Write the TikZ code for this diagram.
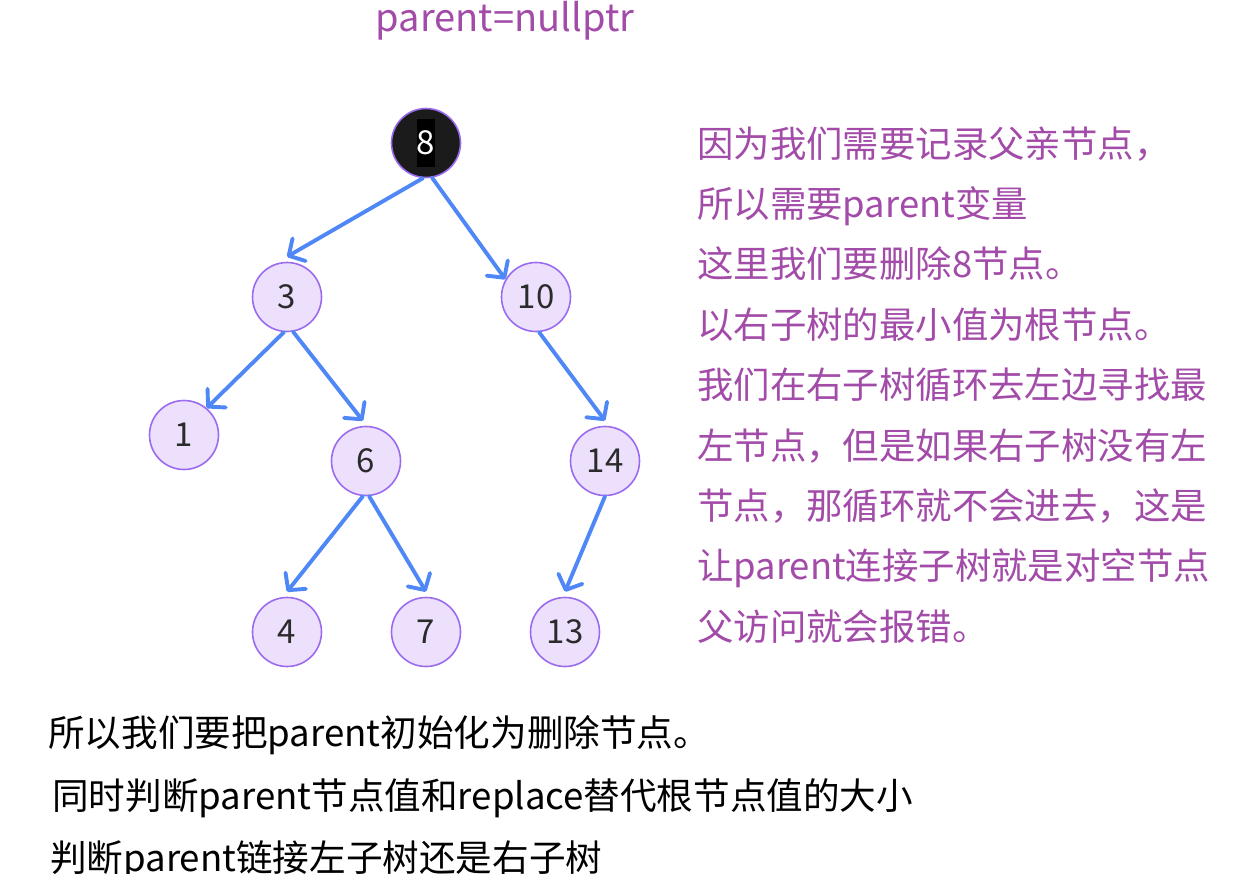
\documentclass[tikz,border=0pt]{standalone}
\usepackage{fontspec}
\setmainfont{Noto Sans CJK SC}
\usetikzlibrary{arrows.meta}

\tikzset{
  every node/.style={font=\fontsize{36.4}{42}\selectfont},
  treenode/.style={circle, draw=nodeborder, line width=1.6pt, fill=nodefill,
    minimum size=69pt, inner sep=0pt, text=numcol,
    font=\fontsize{33}{38}\selectfont},
  link/.style={-{Straight Barb[length=12pt, width=26pt, round]},
    line width=3.9pt, arrowcol, line cap=round},
  note/.style={anchor=base west, inner sep=0pt, text=notecol},
  bottomnote/.style={anchor=base west, inner sep=0pt,
    font=\fontsize{36.6}{42}\selectfont}
}

\begin{document}
\begin{tikzpicture}[x=1pt, y=-1pt]
  % Bounding box fixe (taille de la capture)
  \path[use as bounding box] (0,0) rectangle (1237,873);

  % Colors.
  \definecolor{nodefill}{HTML}{ECE0FD}
  \definecolor{nodeborder}{HTML}{9B6BEF}
  \definecolor{arrowcol}{HTML}{4F88F6}
  \definecolor{notecol}{HTML}{A24BA8}
  \definecolor{numcol}{HTML}{2B2B2B}
  \definecolor{rootfill}{HTML}{1B1B1B}

  % Label above the root.
  \node[anchor=base, inner sep=0pt, text=notecol, font=\fontsize{38}{44}\selectfont]
    (nullptr) at (505,31) {parent=nullptr};

  % Tree nodes.
  \node[treenode, fill=rootfill] (root) at (426,143) {};
  \node[fill=black, text=white, inner sep=0pt, minimum width=17pt,
    minimum height=48pt, font=\fontsize{33}{38}\selectfont]
    (rootnum) at (root) {8};
  \node[treenode] (n3)  at (287,297) {3};
  \node[treenode] (n10) at (536,297) {10};
  \node[treenode] (n1)  at (184,435) {1};
  \node[treenode] (n6)  at (366,461) {6};
  \node[treenode] (n14) at (605,461) {14};
  \node[treenode] (n4)  at (287,632) {4};
  \node[treenode] (n7)  at (426,632) {7};
  \node[treenode] (n13) at (565,632) {13};

  % Child links.
  \draw[link] (root.-95) -- ([yshift=5pt]n3.north);
  \draw[link] (root.-80) -- (n10.150);
  \draw[link] (n3.-95) -- (n1.50);
  \draw[link] (n3.-80) -- ([yshift=5pt]n6.95);
  \draw[link] (n10.-85) -- ([yshift=5pt]n14.north);
  \draw[link] (n6.-95) -- ([yshift=5pt]n4.north);
  \draw[link] (n6.-85) -- ([yshift=5pt]n7.north);
  \draw[link] (n14.-90) -- ([yshift=5pt]n13.north);

  % Explanation on the right.
  \foreach \txt [count=\i] in {因为我们需要记录父亲节点，, 所以需要parent变量,
      这里我们要删除8节点。, 以右子树的最小值为根节点。,
      我们在右子树循环去左边寻找最, 左节点，但是如果右子树没有左,
      节点，那循环就不会进去，这是, 让parent连接子树就是对空节点,
      父访问就会报错。}
    \node[note] (note\i) at (697,{157+60.4*(\i-1)}) {\txt};

  % Notes below the tree.
  \node[bottomnote] (bottom1) at (48,746) {所以我们要把parent初始化为删除节点。};
  \node[bottomnote] (bottom2) at (52,809) {同时判断parent节点值和replace替代根节点值的大小};
  \node[bottomnote] (bottom3) at (50,871) {判断parent链接左子树还是右子树};
\end{tikzpicture}
\end{document}
